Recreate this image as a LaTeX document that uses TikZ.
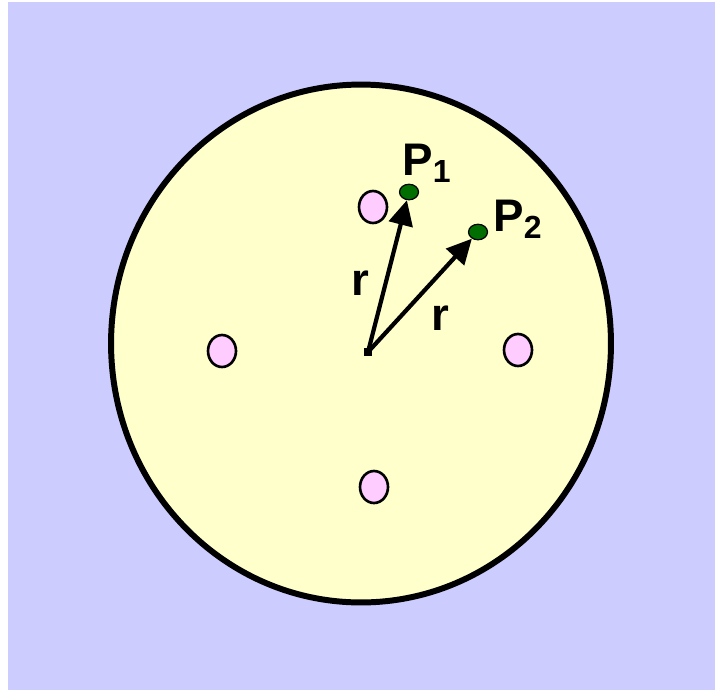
\documentclass[tikz,border=0pt]{standalone}
\usepackage{fontspec}
\setmainfont{Liberation Sans}
\usetikzlibrary{arrows.meta,shapes.geometric}

\definecolor{bgblue}{RGB}{204,204,255}
\definecolor{cream}{RGB}{255,255,204}
\definecolor{pinkish}{RGB}{255,204,255}
\definecolor{dotgreen}{RGB}{0,110,0}

\tikzset{
  hole/.style={draw=black,fill=pinkish,line width=1.5pt},
  point/.style={ellipse,draw=black,fill=dotgreen,line width=0.7pt,
    inner sep=0pt,minimum width=0.38cm,minimum height=0.31cm},
  radius arrow/.style={line width=2.4pt,-{Triangle[length=0.5cm,width=0.48cm]}},
  lbl/.style={font=\fontsize{26}{30}\selectfont\bfseries,inner sep=0pt}
}

\begin{document}
\begin{tikzpicture}[x=0.02cm,y=-0.02cm]
  \useasboundingbox (0,0) rectangle (715,690);
  % background
  \fill[white] (0,0) rectangle (715,690);
  \fill[bgblue] (8,2) rectangle (715,690);

  % the disc
  \draw[fill=cream,line width=3.4pt] (361,343.5) ellipse [x radius=5cm, y radius=5.18cm];

  % small holes round the centre
  \foreach \P in {(222,351),(518,350),(374,487),(373,207)}{
    \draw[hole] \P ellipse [x radius=0.28cm, y radius=0.32cm];
  }

  % centre and the two points at distance r
  \node[fill=black,inner sep=0pt,minimum size=0.16cm] (o) at (368,352) {};
  \node[point] (p1) at (409,192) {};
  \node[point] (p2) at (478,232) {};

  \draw[radius arrow] (o.center) -- (p1);
  \draw[radius arrow] (o.center) -- (p2);

  % labels
  \node[lbl] (l1) at (427,163) {P\textsubscript{1}};
  \node[lbl] (l2) at (518,219) {P\textsubscript{2}};
  \node[lbl] (r1) at (360,283) {r};
  \node[lbl] (r2) at (440,318) {r};
\end{tikzpicture}
\end{document}
